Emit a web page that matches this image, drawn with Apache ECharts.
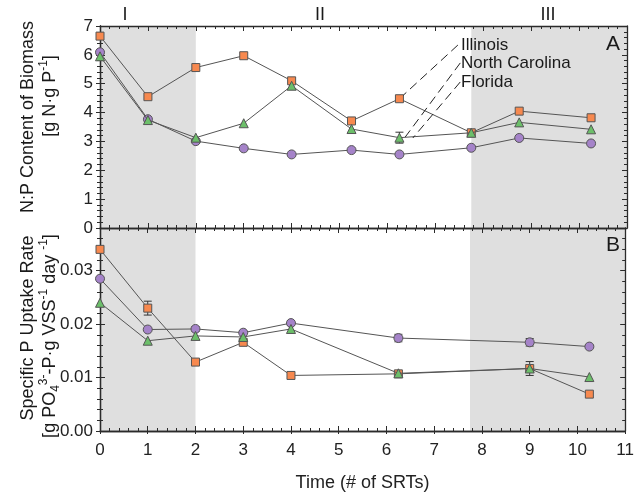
<!DOCTYPE html>
<html>
<head>
<meta charset="utf-8">
<script src="https://cdn.jsdelivr.net/npm/echarts@6/dist/echarts.min.js"></script>
<style>
  html, body { margin: 0; padding: 0; background: #fff; }
  #chart { width: 637px; height: 496px; }
</style>
</head>
<body>
<div id="chart"></div>
<script>
// Panel A: N:P content of biomass, sampled in SRTs
const timeNP = [0, 1, 2, 3, 4, 5.25, 6.25, 7.75, 8.75, 10.25];
const illinoisNP = [6.65, 4.55, 5.56, 5.97, 5.10, 3.71, 4.48, 3.30, 4.05, 3.82];
const carolinaNP = [5.95, 3.74, 3.13, 3.63, 4.93, 3.43, 3.13, 3.30, 3.66, 3.42];
const floridaNP  = [6.09, 3.77, 3.01, 2.76, 2.55, 2.70, 2.55, 2.78, 3.12, 2.93];
const carolinaNPErr = [0, 0, 0, 0, 0, 0, 0.19, 0, 0, 0];

// Panel B: specific P uptake rate
const timeRate = [0, 1, 2, 3, 4, 6.25, 9, 10.25];
const illinoisRate = [0.0340, 0.0230, 0.0129, 0.0166, 0.0104, 0.0107, 0.0117, 0.0069];
const carolinaRate = [0.0240, 0.0169, 0.0178, 0.0176, 0.0191, 0.0108, 0.0117, 0.0101];
const floridaRate  = [0.0285, 0.0190, 0.0191, 0.0184, 0.0202, 0.0174, 0.0166, 0.0158];
const illinoisRateErr = [0, 0.0013, 0, 0, 0, 0, 0, 0];
const carolinaRateErr = [0, 0, 0, 0, 0, 0, 0.0013, 0];
const floridaRateErr  = [0, 0, 0.0004, 0, 0.0004, 0.0007, 0.0007, 0.0003];

// Operating phases (shaded) and their labels
const phaseShade = [[0, 2], [7.75, 11]];
const phaseNames = ['I', 'II', 'III'];

// Legend leader lines (data space of panel A)
const leaderLines = [
  [[7.47, 6.34], [6.33, 4.60]],
  [[7.52, 5.72], [6.37, 3.15]],
  [[7.52, 5.06], [6.53, 3.12]]
];
const siteNames = ['Illinois', 'North Carolina', 'Florida'];

const FONT = '"Liberation Sans", Arial, sans-serif';
const AX = '#2b2b2b';
const colors = { il: '#f7894f', nc: '#6cbf6a', fl: '#a583c9' };

const pairs = (xs, ys) => xs.map((x, i) => [x, ys[i]]);
const errData = (xs, ys, es) => xs.map((x, i) => [x, ys[i] - es[i], ys[i] + es[i]]).filter((d, i) => es[i] > 0);

function errorBar(params, api) {
  const x = api.value(0);
  const top = api.coord([x, api.value(2)]);
  const bot = api.coord([x, api.value(1)]);
  const w = 4;
  const st = { stroke: '#333', lineWidth: 1 };
  return {
    type: 'group',
    children: [
      { type: 'line', shape: { x1: top[0], y1: top[1], x2: bot[0], y2: bot[1] }, style: st },
      { type: 'line', shape: { x1: top[0] - w, y1: top[1], x2: top[0] + w, y2: top[1] }, style: st },
      { type: 'line', shape: { x1: bot[0] - w, y1: bot[1], x2: bot[0] + w, y2: bot[1] }, style: st }
    ]
  };
}

const tickIn = { show: true, inside: true, length: 5, lineStyle: { color: AX } };
const tickOut = { show: true, inside: false, length: 4, lineStyle: { color: AX } };
const minorIn = { show: true, splitNumber: 5, length: 3, lineStyle: { color: AX } };

function axisBase(grid, position, min, max, interval, opts) {
  return Object.assign({
    type: 'value', gridIndex: grid, position: position, min: min, max: max, interval: interval, z: 3,
    axisLine: { show: true, onZero: false, lineStyle: { color: AX, width: 1.3 } },
    axisTick: tickIn,
    minorTick: minorIn,
    axisLabel: { show: false },
    splitLine: { show: false }
  }, opts || {});
}

const labelStyle = { color: '#222', fontSize: 17, fontFamily: FONT };

const xAxes = [
  axisBase(0, 'bottom', 0, 11, 1),
  axisBase(0, 'top', 0, 11, 1),
  axisBase(1, 'bottom', 0, 11, 1, {
    axisLabel: Object.assign({ show: true, margin: 11 }, labelStyle),
    name: 'Time (# of SRTs)', nameLocation: 'middle', nameGap: 43,
    nameTextStyle: { color: '#222', fontSize: 18, fontFamily: FONT }
  }),
  axisBase(1, 'top', 0, 11, 1),
  axisBase(1, 'bottom', 0, 11, 1, { axisTick: Object.assign({}, tickOut, { length: 3 }), minorTick: { show: false } })
];

const yAxes = [
  axisBase(0, 'left', 0, 7, 1, { axisTick: tickOut,
    axisLabel: Object.assign({ show: true, margin: 7 }, labelStyle) }),
  axisBase(0, 'right', 0, 7, 1),
  axisBase(1, 'left', 0, 0.038, 0.01, { axisTick: tickOut,
    axisLabel: Object.assign({ show: true, margin: 7, showMaxLabel: false,
      formatter: v => (v > 0.035 ? '' : v.toFixed(2)) }, labelStyle) }),
  axisBase(1, 'right', 0, 0.038, 0.01),
  axisBase(0, 'left', 0, 7, 1),
  axisBase(1, 'left', 0, 0.038, 0.01)
];

function siteSeries(name, xs, ys, symbol, size, color, xi, yi, z) {
  return {
    type: 'line', name: name, xAxisIndex: xi, yAxisIndex: yi, z: z,
    data: pairs(xs, ys), symbol: symbol, symbolSize: size,
    lineStyle: { color: '#555', width: 1 },
    itemStyle: { color: color, borderColor: '#555', borderWidth: 1 },
    emphasis: { disabled: true }, animation: false
  };
}

function shadeSeries(xi, yi) {
  return {
    type: 'line', xAxisIndex: xi, yAxisIndex: yi, z: 1, data: [], silent: true,
    markArea: {
      silent: true,
      itemStyle: { color: '#dfdfdf' },
      data: phaseShade.map(p => [{ xAxis: p[0] }, { xAxis: p[1] }])
    }
  };
}

function errSeries(data, xi, yi) {
  return {
    type: 'custom', xAxisIndex: xi, yAxisIndex: yi, z: 4, silent: true,
    renderItem: errorBar, data: data, encode: { x: 0, y: [1, 2] }, animation: false
  };
}

const series = [
  shadeSeries(0, 0),
  shadeSeries(2, 2),
  errSeries(errData(timeNP, carolinaNP, carolinaNPErr), 0, 0),
  errSeries(errData(timeRate, illinoisRate, illinoisRateErr)
    .concat(errData(timeRate, carolinaRate, carolinaRateErr))
    .concat(errData(timeRate, floridaRate, floridaRateErr)), 2, 2),
  siteSeries('Florida', timeNP, floridaNP, 'circle', 9, colors.fl, 0, 0, 5),
  siteSeries('Illinois', timeNP, illinoisNP, 'rect', 8, colors.il, 0, 0, 6),
  siteSeries('North Carolina', timeNP, carolinaNP, 'triangle', 9, colors.nc, 0, 0, 7),
  siteSeries('Florida', timeRate, floridaRate, 'circle', 9, colors.fl, 2, 2, 5),
  siteSeries('Illinois', timeRate, illinoisRate, 'rect', 8, colors.il, 2, 2, 6),
  siteSeries('North Carolina', timeRate, carolinaRate, 'triangle', 9, colors.nc, 2, 2, 7)
].concat(leaderLines.map(seg => ({
  type: 'line', xAxisIndex: 0, yAxisIndex: 0, z: 8, data: seg, symbol: 'none', silent: true,
  lineStyle: { color: '#222', width: 1, type: [9, 5] }, animation: false
})));

function label(text, x, y, size, align, rotation) {
  return {
    type: 'text', x: x, y: y, z: 100, silent: true, rotation: rotation || 0,
    style: { text: text, fill: '#1a1a1a', font: size + 'px ' + FONT, align: align || 'center', verticalAlign: 'middle' }
  };
}

function richTitle(text, x, y) {
  return {
    type: 'text', x: x, y: y, z: 100, rotation: Math.PI / 2, silent: true,
    style: {
      text: text, fill: '#1a1a1a', align: 'center', verticalAlign: 'middle',
      font: '18px ' + FONT,
      rich: {
        a: { fontSize: 18, fontFamily: FONT, lineHeight: 24, verticalAlign: 'middle', fill: '#1a1a1a' },
        s: { fontSize: 12, fontFamily: FONT, lineHeight: 24, verticalAlign: 'top', fill: '#1a1a1a' },
        b: { fontSize: 12, fontFamily: FONT, lineHeight: 24, verticalAlign: 'bottom', fill: '#1a1a1a' }
      }
    }
  };
}

const graphics = [
  label(phaseNames[0], 125, 15, 18),
  label(phaseNames[1], 320, 15, 18),
  label(phaseNames[2], 548, 15, 18),
  label('A', 613, 44, 21),
  label('B', 613, 245, 21),
  label(siteNames[0], 461, 45, 17, 'left'),
  label(siteNames[1], 461, 63.5, 17, 'left'),
  label(siteNames[2], 461, 82, 17, 'left'),
  label('N:P Content of Biomass', 28, 117, 18, 'center', Math.PI / 2),
  richTitle('{a|[g N·g P}{s|-1}{a|]}', 50, 96),
  label('Specific P Uptake Rate', 28, 328, 18, 'center', Math.PI / 2),
  richTitle('{a|[g PO}{b|4}{s|3-}{a|-P·g VSS}{s|-1}{a| day }{s|-1}{a|]}', 50, 336)
];

const chart = echarts.init(document.getElementById('chart'), null, { renderer: 'canvas' });
chart.setOption({
  animation: false,
  backgroundColor: '#fff',
  textStyle: { fontFamily: FONT },
  grid: [
    { left: 100, top: 26, width: 527, height: 202 },
    { left: 100, top: 228, width: 527, height: 203 }
  ],
  xAxis: xAxes,
  yAxis: yAxes,
  series: series,
  graphic: graphics
});
</script>
</body>
</html>
